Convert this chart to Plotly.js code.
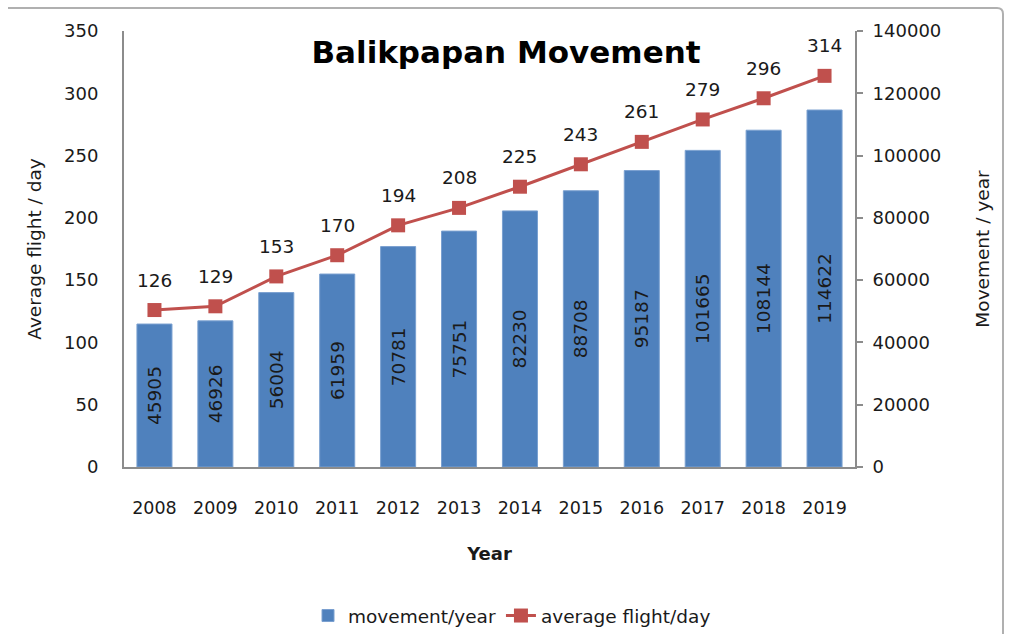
<!DOCTYPE html>
<html>
<head>
<meta charset="utf-8">
<script src="https://cdn.plot.ly/plotly-3.0.1.min.js"></script>
<style>html,body{margin:0;padding:0;background:#fff;}#chart{width:1010px;height:634px;}</style>
</head>
<body>
<div id="chart"></div>
<script>
// ---- data ----
const years = ['2008','2009','2010','2011','2012','2013','2014','2015','2016','2017','2018','2019'];
const movementPerYear = [45905, 46926, 56004, 61959, 70781, 75751, 82230, 88708, 95187, 101665, 108144, 114622];
const avgFlightPerDay = [126, 129, 153, 170, 194, 208, 225, 243, 261, 279, 296, 314];
const leftTicks = [0, 50, 100, 150, 200, 250, 300, 350];
const rightTicks = [0, 20000, 40000, 60000, 80000, 100000, 120000, 140000];

// ---- layout geometry ----
const W = 1010, H = 634;
const L = 124, R = 855, T = 31, B = 467;
const px = v => (v - L) / (R - L);
const py = v => (B - v) / (B - T);
const FONT = 'DejaVu Sans, Noto Sans, sans-serif';
const TXT = '#1a1a1a';

const bars = {
  type: 'bar', name: 'movement/year', x: years, y: movementPerYear, yaxis: 'y2',
  marker: {color: '#4F81BD', line: {color: '#7AA0D0', width: 1}},
  text: movementPerYear.map(String), textposition: 'inside', insidetextanchor: 'middle',
  textangle: -90, textfont: {family: FONT, size: 18.5, color: TXT},
  hoverinfo: 'x+y'
};
const line = {
  type: 'scatter', mode: 'lines+markers', name: 'average flight/day', x: years, y: avgFlightPerDay, yaxis: 'y',
  line: {color: '#C0504D', width: 3},
  marker: {color: '#C0504D', symbol: 'square', size: 14}
};

const annotations = years.map((yr, i) => ({
  x: i, y: avgFlightPerDay[i], xref: 'x', yref: 'y', text: String(avgFlightPerDay[i]),
  showarrow: false, yshift: 30, font: {family: FONT, size: 18.5, color: TXT}
}));

const layout = {
  width: W, height: H,
  margin: {l: L, r: W - R, t: T, b: H - B, pad: 0, autoexpand: false},
  paper_bgcolor: '#fff', plot_bgcolor: '#fff',
  font: {family: FONT, color: TXT, size: 18},
  title: {text: '<b>Balikpapan Movement</b>', x: 506 / W, xref: 'container', xanchor: 'center',
          y: 1 - 52 / H, yref: 'container', yanchor: 'middle',
          font: {family: FONT, size: 31, color: '#000'}},
  bargap: 0.425,
  showlegend: true,
  legend: {orientation: 'h', xref: 'container', x: 512 / W, xanchor: 'center',
           yref: 'container', y: 1 - 616 / H, yanchor: 'middle',
           font: {family: FONT, size: 18.5, color: TXT}, bgcolor: 'rgba(0,0,0,0)'},
  xaxis: {type: 'category', range: [-0.5, years.length - 0.5], autorange: false,
          showline: true, linecolor: '#8c8c8c', linewidth: 2, ticks: '',
          showgrid: false, zeroline: false, tickfont: {family: FONT, size: 17.5, color: TXT},
          ticklabelstandoff: 24,
          title: {text: '<b>Year</b>', font: {family: FONT, size: 18, color: TXT}, standoff: 30}},
  yaxis: {range: [0, 350], autorange: false, tickvals: leftTicks, showline: true, linecolor: '#8c8c8c', linewidth: 2,
          ticks: '', showgrid: false, zeroline: false, tickfont: {family: FONT, size: 18, color: TXT},
          ticklabelstandoff: 20,
          title: {text: 'Average flight / day', font: {family: FONT, size: 18.5, color: TXT}, standoff: 18}},
  yaxis2: {range: [0, 140000], autorange: false, tickvals: rightTicks, tickformat: 'd', overlaying: 'y', side: 'right', showline: true,
           linecolor: '#8c8c8c', linewidth: 2, ticks: 'outside', ticklen: 6, tickcolor: '#8c8c8c', tickwidth: 2,
           showgrid: false, zeroline: false, tickfont: {family: FONT, size: 18, color: TXT},
           ticklabelstandoff: 6,
           title: {text: 'Movement / year', font: {family: FONT, size: 18.5, color: TXT}, standoff: 36}},
  annotations: annotations,
  shapes: [
    {type: 'path', xref: 'paper', yref: 'paper',
     path: `M ${px(8)} ${py(8)} L ${px(997)} ${py(8)} Q ${px(1003)} ${py(8)} ${px(1003)} ${py(14)} L ${px(1003)} ${py(634)}`,
     line: {color: '#b0b0b0', width: 2}}
  ]
};

Plotly.newPlot('chart', [bars, line], layout, {displayModeBar: false, staticPlot: true});
</script>
</body>
</html>
